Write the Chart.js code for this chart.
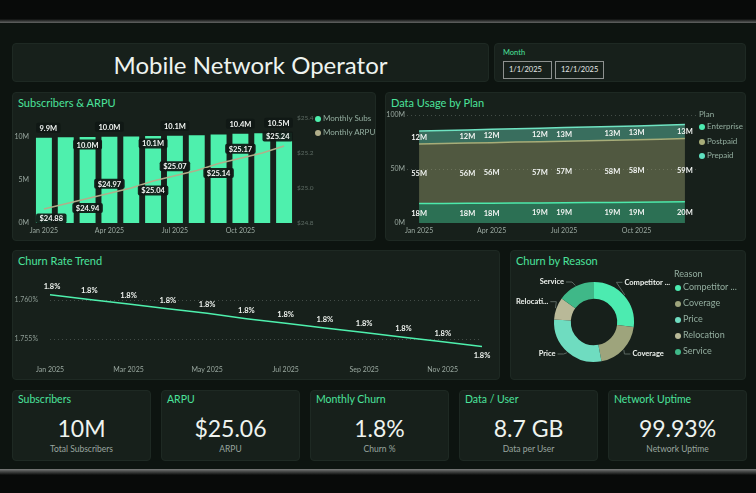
<!DOCTYPE html>
<html><head><meta charset="utf-8">
<script src="https://cdn.jsdelivr.net/npm/chart.js@4.4.1/dist/chart.umd.min.js"></script>
<style>
html,body{margin:0;padding:0;width:756px;height:493px;overflow:hidden;background:#080a09;font-family:Lato,'Open Sans',sans-serif;}
#dash{position:absolute;left:0;top:23px;width:756px;height:447px;background:#0d1410;}
#topline{position:absolute;left:0;top:19px;width:756px;height:5px;background:linear-gradient(#0a0c0b,#5e605f 75%,#7a7c7b);}
#botline{position:absolute;left:0;top:469px;width:756px;height:6px;background:linear-gradient(#7a7c7b,#4a4c4b 40%,#0a0c0b);}
.panel{position:absolute;background:#17201b;border:1px solid #1e2923;border-radius:4px;box-sizing:border-box;}
.ptitle{position:absolute;left:5px;top:3px;color:#4be39b;font-size:11px;white-space:nowrap;}
canvas{position:absolute;}
.leg{position:absolute;color:#93ad9f;font-size:8px;white-space:nowrap;}
.dot{display:inline-block;width:6px;height:6px;border-radius:50%;margin-right:2px;vertical-align:-0.5px;}
.kpi .val{position:absolute;left:0;width:100%;text-align:center;top:23px;color:#eef3ef;font-size:23px;}
.kpi .sub{position:absolute;left:0;width:100%;text-align:center;top:53px;color:#99a59f;font-size:8.5px;}
.fbox{position:absolute;top:17px;width:49px;height:18px;border:1px solid #8d918f;box-sizing:border-box;color:#e6ebe8;font-size:7.5px;line-height:16px;padding-left:5px;}
</style></head>
<body>
<div id="topline"></div>
<div id="dash"></div>
<div id="botline"></div>

<div class="panel" style="left:12px;top:43px;width:477px;height:39px;">
  <div style="position:absolute;left:0;width:100%;top:6px;text-align:center;color:#eef3ef;font-size:24px;">Mobile Network Operator</div>
</div>
<div class="panel" style="left:494px;top:43px;width:252px;height:39px;">
  <div style="position:absolute;left:8px;top:4px;color:#4be39b;font-size:7.5px;">Month</div>
  <div class="fbox" style="left:8px;">1/1/2025</div>
  <div class="fbox" style="left:60px;">12/1/2025</div>
</div>

<div class="panel" style="left:12px;top:92px;width:364px;height:149px;"><div class="ptitle">Subscribers &amp; ARPU</div></div>
<div class="panel" style="left:385px;top:92px;width:361px;height:149px;"><div class="ptitle">Data Usage by Plan</div></div>
<div class="panel" style="left:12px;top:250px;width:488px;height:130px;"><div class="ptitle">Churn Rate Trend</div></div>
<div class="panel" style="left:510px;top:250px;width:236px;height:130px;"><div class="ptitle">Churn by Reason</div></div>

<canvas id="c1" width="364" height="133" style="left:12px;top:108px;"></canvas>
<canvas id="c2" width="361" height="133" style="left:385px;top:108px;"></canvas>
<canvas id="c3" width="488" height="114" style="left:12px;top:265px;"></canvas>
<canvas id="c4" width="164" height="108" style="left:510px;top:268px;"></canvas>

<div class="leg" style="left:315px;top:113px;"><span class="dot" style="background:#4ef0ad"></span>Monthly Subs</div>
<div class="leg" style="left:315px;top:127px;"><span class="dot" style="background:#b1ae8a"></span>Monthly ARPU</div>

<div class="leg" style="left:699px;top:109px;">Plan</div>
<div class="leg" style="left:699px;top:121px;"><span class="dot" style="background:#4debb0"></span>Enterprise</div>
<div class="leg" style="left:699px;top:136px;"><span class="dot" style="background:#a7ad79"></span>Postpaid</div>
<div class="leg" style="left:699px;top:150px;"><span class="dot" style="background:#5fe0c0"></span>Prepaid</div>

<div id="leg4"></div>

<div id="kpis"></div>

<script>
// ---------- DATA ----------
const months = ['Jan 2025','Feb 2025','Mar 2025','Apr 2025','May 2025','Jun 2025','Jul 2025','Aug 2025','Sep 2025','Oct 2025','Nov 2025','Dec 2025'];
const subscribers = [9.9, 9.95, 9.98, 10.02, 10.05, 10.1, 10.13, 10.2, 10.28, 10.38, 10.44, 10.5]; // millions
const arpu = [24.88, 24.91, 24.94, 24.97, 25.00, 25.04, 25.07, 25.10, 25.14, 25.17, 25.20, 25.24];
const subsLabelMode = ['above',null,'inside','above',null,'inside','above',null,null,'above',null,'above'];
const arpuLabelMode = ['below',null,'below','above',null,'below','above',null,'below','above',null,'above'];
const subsTicks = [0,5,10];
const arpuTicks = [24.8,25.0,25.2,25.4];

const prepaid    = [18.0,18.1,18.2,18.3,18.5,18.6,18.8,18.9,19.0,19.2,19.4,19.6];
const postpaid   = [55.2,55.5,55.8,56.1,56.4,56.7,57.0,57.3,57.6,57.9,58.2,58.6];
const enterprise = [12.0,12.1,12.2,12.3,12.4,12.45,12.55,12.6,12.7,12.8,12.9,13.0];
const usageLabelIdx = [0,2,3,5,6,8,9,11];
const usageTicks = [0,50,100];

const churnRate = [1.7607,1.7601,1.7595,1.7589,1.7583,1.7576,1.7570,1.7564,1.7558,1.7552,1.7546,1.7540];
const churnTicks = [1.755,1.760];

const reasons = ['Competitor Offer','Coverage','Price','Relocation','Service'];
const reasonValues = [27,20,29,9,15];
const reasonColors = ['#4cebb0','#9ea47c','#6fdcc0','#b9b998','#3fb888'];

const kpiTitles = ['Subscribers','ARPU','Monthly Churn','Data / User','Network Uptime'];
const kpiValues = ['10M','$25.06','1.8%','8.7 GB','99.93%'];
const kpiSubs = ['Total Subscribers','ARPU','Churn %','Data per User','Network Uptime'];

// ---------- KPI cards / legends ----------
const kpiLeft = [12,161,310,459,608];
document.getElementById('kpis').innerHTML = kpiTitles.map((t,i)=>
  `<div class="panel kpi" style="left:${kpiLeft[i]}px;top:390px;width:139px;height:71px;">
     <div class="ptitle" style="font-size:10.5px;top:2px;">${t}</div>
     <div class="val">${kpiValues[i]}</div><div class="sub">${kpiSubs[i]}</div></div>`).join('');

const legNames = ['Competitor ...','Coverage','Price','Relocation','Service'];
let lh = '<div class="leg" style="left:674px;top:268px;font-size:9px;">Reason</div>';
legNames.forEach((n,i)=>{ lh += `<div class="leg" style="left:675px;top:${281+i*16}px;font-size:9px;"><span class="dot" style="background:${reasonColors[i]}"></span>${n}</div>`; });
document.getElementById('leg4').innerHTML = lh;

// ---------- Chart defaults ----------
Chart.defaults.font.family = "Lato, 'Open Sans', sans-serif";
Chart.defaults.animation = false;
Chart.defaults.responsive = false;
Chart.defaults.plugins.legend.display = false;
Chart.defaults.plugins.tooltip.enabled = false;

function rr(ctx,x,y,w,h,r){ctx.beginPath();ctx.moveTo(x+r,y);ctx.lineTo(x+w-r,y);ctx.quadraticCurveTo(x+w,y,x+w,y+r);ctx.lineTo(x+w,y+h-r);ctx.quadraticCurveTo(x+w,y+h,x+w-r,y+h);ctx.lineTo(x+r,y+h);ctx.quadraticCurveTo(x,y+h,x,y+h-r);ctx.lineTo(x,y+r);ctx.quadraticCurveTo(x,y,x+r,y);ctx.closePath();}
function box(ctx,text,cx,cy,area,bg){
  ctx.font = "bold 7.5px Lato, 'Open Sans', sans-serif";
  const w = ctx.measureText(text).width + 7, h = 10;
  let x = cx - w/2;
  x = Math.max(area.left+3, Math.min(area.right-2-w, x));
  ctx.fillStyle = bg || 'rgba(16,24,20,0.93)';
  rr(ctx,x,cy-h/2,w,h,2); ctx.fill();
  ctx.fillStyle = '#f2f5f3'; ctx.textAlign='center'; ctx.textBaseline='middle';
  ctx.fillText(text, x+w/2, cy+0.5);
}
// dotted grid lines drawn under the datasets, at the y-axis ticks
function dottedGrid(skipZero){ return {id:'dotgrid', beforeDatasetsDraw(chart){
  const ctx = chart.ctx, a = chart.chartArea, ys = chart.scales.y;
  ctx.save(); ctx.strokeStyle = 'rgba(150,160,155,0.35)'; ctx.lineWidth = 1; ctx.setLineDash([1,3]);
  ys.ticks.forEach(t=>{ if(skipZero && t.value===0) return;
    const y = Math.round(ys.getPixelForValue(t.value))+0.5;
    ctx.beginPath(); ctx.moveTo(a.left,y); ctx.lineTo(a.right,y); ctx.stroke(); });
  ctx.restore();
}}; }
const axCol = '#9aa8a0';
const noGrid = {display:false, drawTicks:false};

// ---------- Chart 1: Subscribers & ARPU ----------
const labels1 = {id:'labels1', afterDatasetsDraw(chart){
  const ctx = chart.ctx, area = chart.chartArea;
  const bars = chart.getDatasetMeta(1).data, pts = chart.getDatasetMeta(0).data;
  ctx.save();
  bars.forEach((b,i)=>{ const m = subsLabelMode[i]; if(!m) return;
    box(ctx, subscribers[i].toFixed(1)+'M', b.x, m==='above'? b.y-10 : b.y+7.5, area); });
  pts.forEach((p,i)=>{ const m = arpuLabelMode[i]; if(!m) return;
    box(ctx, '$'+arpu[i].toFixed(2), p.x, m==='above'? p.y-9.5 : p.y+9.5, area); });
  ctx.restore();
}};
new Chart(document.getElementById('c1'), {
  type:'bar',
  data:{labels:months, datasets:[
    {type:'line', label:'Monthly ARPU', data:arpu, yAxisID:'y1', borderColor:'#b1ae8a', borderWidth:1.5, pointRadius:0, tension:0, order:0},
    {type:'bar', label:'Monthly Subs', data:subscribers, yAxisID:'y', backgroundColor:'#4ef0ad', categoryPercentage:1, barPercentage:0.73, order:1}
  ]},
  options:{
    layout:{padding:{top:10,left:0,right:0,bottom:0}},
    scales:{
      x:{grid:noGrid, border:{display:false}, ticks:{autoSkip:false, maxRotation:0, padding:4, color:axCol, font:{size:7}, callback:(v,i)=> i%3===0 ? months[i] : ''}, afterFit:s=>{s.height=18;}},
      y:{position:'left', min:0, max:12.2, grid:noGrid, border:{display:false},
         ticks:{padding:4, color:axCol, font:{size:7}, callback:v=>v+'M'},
         afterBuildTicks:s=>{s.ticks = subsTicks.map(v=>({value:v}));}, afterFit:s=>{s.width=21;}},
      y1:{position:'right', min:24.8, max:25.4, grid:noGrid, border:{display:false},
         ticks:{padding:2, color:'#5d6b64', font:{size:6.5}, callback:v=>'$'+v.toFixed(1)},
         afterBuildTicks:s=>{s.ticks = arpuTicks.map(v=>({value:v}));}, afterFit:s=>{s.width=81;}}
    }
  },
  plugins:[labels1]
});

// ---------- Chart 2: Data Usage by Plan ----------
const series2 = [prepaid, postpaid, enterprise];
const labels2 = {id:'labels2', afterDatasetsDraw(chart){
  const ctx = chart.ctx, ys = chart.scales.y;
  ctx.save(); ctx.font = "bold 7.5px Lato, 'Open Sans', sans-serif";
  ctx.fillStyle = '#f2f5f3'; ctx.textAlign='center'; ctx.textBaseline='middle';
  usageLabelIdx.forEach(i=>{
    let base = 0;
    series2.forEach((s,k)=>{
      const x = chart.getDatasetMeta(k).data[i].x;
      const yc = ys.getPixelForValue(base + s[i]/2);
      ctx.fillText(Math.round(s[i])+'M', x, yc);
      base += s[i];
    });
  });
  ctx.restore();
}};
new Chart(document.getElementById('c2'), {
  type:'line',
  data:{labels:months, datasets:[
    {label:'Prepaid', data:prepaid, borderColor:'#4de9ab', backgroundColor:'rgba(77,233,171,0.4)', fill:'origin', borderWidth:1.5, pointRadius:0, tension:0},
    {label:'Postpaid', data:postpaid, borderColor:'#a7ad79', backgroundColor:'rgba(167,173,121,0.4)', fill:'-1', borderWidth:1.5, pointRadius:0, tension:0},
    {label:'Enterprise', data:enterprise, borderColor:'#6fe3c2', backgroundColor:'rgba(111,227,194,0.4)', fill:'-1', borderWidth:1.5, pointRadius:0, tension:0}
  ]},
  options:{
    layout:{padding:{top:7,left:0,right:49,bottom:0}},
    scales:{
      x:{offset:true, grid:noGrid, border:{display:false}, ticks:{autoSkip:false, maxRotation:0, padding:4, color:axCol, font:{size:7}, callback:(v,i)=> i%3===0 ? months[i] : ''}, afterFit:s=>{s.height=18;}},
      y:{stacked:true, min:0, max:100, grid:noGrid, border:{display:false},
         ticks:{padding:2, color:axCol, font:{size:7}, callback:v=>v+'M'},
         afterBuildTicks:s=>{s.ticks = usageTicks.map(v=>({value:v}));}, afterFit:s=>{s.width=22;}}
    }
  },
  plugins:[dottedGrid(true), labels2]
});

// ---------- Chart 3: Churn Rate Trend ----------
const labels3 = {id:'labels3', afterDatasetsDraw(chart){
  const ctx = chart.ctx, pts = chart.getDatasetMeta(0).data;
  ctx.save(); ctx.font = "bold 7.5px Lato, 'Open Sans', sans-serif";
  ctx.fillStyle = '#eef2ee'; ctx.textAlign='center'; ctx.textBaseline='middle';
  pts.forEach((p,i)=>{
    const last = i === pts.length-1;
    ctx.fillText(churnRate[i].toFixed(1)+'%', p.x + (i===0?2:0), last ? p.y+9 : p.y-8.5);
  });
  ctx.restore();
}};
new Chart(document.getElementById('c3'), {
  type:'line',
  data:{labels:months, datasets:[
    {label:'Churn', data:churnRate, borderColor:'#4ef0ad', borderWidth:1.5, pointRadius:0, tension:0}
  ]},
  options:{
    layout:{padding:{top:5,left:0,right:18,bottom:0}},
    scales:{
      x:{grid:noGrid, border:{display:false}, ticks:{autoSkip:false, maxRotation:0, padding:6, color:axCol, font:{size:7}, callback:(v,i)=> i%2===0 ? months[i] : ''}, afterFit:s=>{s.height=19;}},
      y:{min:1.75224, max:1.76247, grid:noGrid, border:{display:false},
         ticks:{padding:12, color:'#8d9b94', font:{size:7}, callback:v=>v.toFixed(3)+'%'},
         afterBuildTicks:s=>{s.ticks = churnTicks.map(v=>({value:v}));}, afterFit:s=>{s.width=38;}}
    }
  },
  plugins:[dottedGrid(false), labels3]
});

// ---------- Chart 4: Churn by Reason ----------
const labels4 = {id:'labels4', afterDatasetsDraw(chart){
  const ctx = chart.ctx, arcs = chart.getDatasetMeta(0).data;
  ctx.save();
  ctx.font = "bold 7.5px Lato, 'Open Sans', sans-serif"; ctx.textBaseline='middle';
  arcs.forEach((a,i)=>{
    const p = a.getProps(['x','y','startAngle','endAngle','outerRadius'], true);
    const mid = (p.startAngle+p.endAngle)/2, dx = Math.cos(mid), dy = Math.sin(mid);
    let ly = p.y + dy*60; ly = Math.max(p.y-40, Math.min(p.y+32, ly));
    const R = 50, h = ly - p.y, hx = Math.sqrt(Math.max(0, R*R - h*h));
    const right = dx >= 0;
    const tx = right ? p.x + hx : p.x - hx;
    const r0 = p.outerRadius + 1;
    ctx.strokeStyle = '#5b6761'; ctx.lineWidth = 1;
    ctx.beginPath(); ctx.moveTo(p.x + dx*r0, p.y + dy*r0);
    ctx.lineTo(tx + (right?-8:8), ly); ctx.lineTo(tx + (right?-2:2), ly); ctx.stroke();
    let t = reasons[i];
    const maxW = right ? (chart.width - 2 - tx) : (tx - 4);
    if (ctx.measureText(t).width > maxW) {
      while (t.length > 1 && ctx.measureText(t + '...').width > maxW) t = t.slice(0,-1);
      t = t + '...';
    }
    ctx.fillStyle = '#eef2ee'; ctx.textAlign = right ? 'left' : 'right';
    ctx.fillText(t, tx, ly);
  });
  ctx.restore();
}};
new Chart(document.getElementById('c4'), {
  type:'doughnut',
  data:{labels:reasons, datasets:[{data:reasonValues, backgroundColor:reasonColors, borderWidth:0}]},
  options:{cutout:'58%', layout:{padding:{left:44,right:40,top:14,bottom:14}}},
  plugins:[labels4]
});
</script>
</body></html>
